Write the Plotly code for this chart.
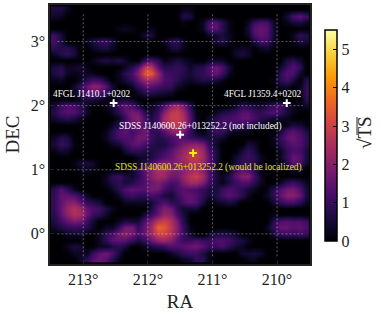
import plotly.graph_objects as go

ra_ticks = [213, 212, 211, 210]
dec_ticks = [0, 1, 2, 3]
ra_centers = [213.45 - 0.1 * i for i in range(40)]
dec_centers = [3.5 - 0.1 * j for j in range(40)]

# sqrt(TS) in tenths; rows top to bottom, columns left to right
sqrt_ts_tenths = [
 [6,6,3,0,0,0,0,0,0,0, 0,0,0,0,0,0,0,0,0,0, 2,2,0,0,0,0,0,0,0,0, 0,0,0,0,0,0,0,0,0,0],
 [4,3,0,0,0,0,0,0,0,0, 0,0,0,0,0,0,0,0,0,0, 7,6,0,0,0,0,0,0,0,0, 0,0,0,0,0,0,5,12,15,11],
 [0,0,0,0,0,0,0,0,0,0, 0,0,0,0,0,0,0,0,0,0, 1,0,0,3,12,14,8,2,0,0, 3,10,13,12,3,0,2,5,6,3],
 [0,0,0,0,0,0,0,0,0,0, 2,3,2,0,0,2,0,0,0,0, 0,0,0,3,13,15,8,2,0,0, 5,14,16,14,4,0,0,0,0,0],
 [11,6,0,0,0,0,0,0,0,0, 0,0,0,0,5,6,0,0,0,0, 0,0,0,0,3,4,6,3,0,0, 3,12,15,13,4,0,0,3,9,7],
 [12,6,0,0,0,3,6,9,10,6, 0,0,0,0,0,0,0,3,8,9, 3,0,0,0,0,5,7,3,0,0, 0,6,12,11,3,0,0,2,6,5],
 [8,7,8,5,0,0,3,5,6,3, 0,0,0,0,0,0,0,0,5,6, 2,0,0,0,0,0,0,0,2,4, 3,0,3,4,0,0,0,0,0,0],
 [3,7,9,6,0,0,0,0,0,0, 0,0,0,0,0,0,0,0,0,0, 0,0,0,0,0,0,0,0,4,6, 4,0,0,0,0,0,0,0,0,0],
 [0,0,0,0,0,0,2,5,7,5, 7,4,0,0,9,13,8,2,4,6, 4,2,0,0,3,4,3,0,0,0, 0,0,0,0,0,0,6,8,4,0],
 [6,8,3,4,5,2,0,0,0,0, 0,3,8,14,28,28,14,8,8,10, 8,4,7,8,13,17,13,5,0,0, 0,0,0,0,0,4,10,14,9,0],
 [6,9,3,2,3,3,2,0,0,0, 3,8,12,20,34,35,22,12,10,9, 7,5,8,9,12,16,11,3,0,0, 0,0,0,0,0,8,14,12,4,0],
 [2,3,0,0,3,8,12,11,5,0, 2,5,9,15,22,22,18,13,11,8, 5,3,5,7,6,5,2,0,0,0, 0,0,0,0,2,8,11,6,0,8],
 [0,0,0,4,9,16,21,20,14,5, 0,0,3,9,14,14,12,10,9,4, 2,0,0,0,0,0,0,0,0,0, 0,0,0,0,0,3,4,0,3,9],
 [0,0,0,3,7,12,14,12,8,3, 0,0,0,3,7,7,5,4,3,0, 0,0,0,0,0,0,0,0,0,0, 0,0,0,0,0,0,0,0,2,10],
 [0,0,0,0,3,6,6,4,2,0, 4,5,3,0,0,0,0,0,0,0, 0,0,0,0,0,0,0,0,0,0, 0,0,0,0,0,0,0,0,0,8],
 [5,10,13,12,8,3,0,0,3,5, 12,15,12,6,0,3,6,12,20,24, 18,8,0,0,0,0,0,0,3,8, 7,5,4,7,10,12,6,3,2,4],
 [7,12,14,13,10,4,0,0,0,3, 8,14,18,17,8,4,10,20,28,29, 24,12,2,0,0,3,6,8,10,14, 14,10,9,12,13,10,5,2,0,0],
 [4,7,8,6,3,0,0,0,0,0, 3,10,18,20,12,6,12,24,29,29, 26,14,3,0,4,8,11,12,13,15, 15,12,8,6,4,3,2,0,0,0],
 [0,0,0,0,0,0,0,0,0,3, 8,13,14,16,13,8,12,22,27,28, 24,13,3,0,6,9,11,10,10,9, 8,5,3,0,0,0,3,6,5,2],
 [0,0,0,0,0,0,0,0,2,7, 13,15,11,14,17,10,9,14,20,22, 18,9,3,0,6,11,10,5,3,3, 2,0,0,0,0,5,12,14,11,6],
 [3,7,6,0,0,0,0,0,3,8, 12,13,13,17,17,10,7,9,12,14, 13,10,8,6,5,6,4,0,0,0, 0,0,0,0,3,9,15,16,13,9],
 [5,10,8,2,0,0,0,0,0,3, 5,10,14,15,12,8,6,6,10,14, 18,20,21,18,9,4,0,0,0,0, 5,4,0,0,2,7,12,14,13,8],
 [2,5,4,0,0,0,0,0,0,0, 0,5,9,9,7,6,8,10,14,18, 22,26,28,23,12,6,0,0,0,5, 9,6,0,0,0,3,9,12,11,6],
 [0,0,0,0,0,0,0,0,0,0, 0,0,0,3,4,6,10,13,16,20, 24,28,29,24,14,6,0,0,4,8, 10,8,3,0,0,3,10,16,14,6],
 [0,0,0,2,5,6,4,0,0,0, 0,0,0,4,8,12,18,20,18,20, 22,25,26,22,13,5,0,0,5,9, 9,7,2,0,0,0,7,14,12,4],
 [0,0,0,0,2,3,2,0,0,0, 0,0,4,8,15,20,25,25,20,18, 20,23,24,20,12,5,0,3,10,14, 12,7,0,0,0,0,0,3,3,0],
 [0,0,0,0,0,0,0,0,3,8, 10,6,4,8,14,20,24,23,17,17, 22,27,29,24,13,6,3,7,14,19, 20,12,3,0,0,0,0,0,0,0],
 [0,0,0,0,0,0,0,0,3,7, 9,5,7,10,13,17,19,16,12,13, 19,24,24,19,11,5,2,6,10,13, 13,8,3,0,0,3,8,10,7,3],
 [8,14,9,3,0,0,0,0,0,3, 8,13,15,14,14,18,17,12,8,12, 14,13,12,9,6,6,10,13,11,8, 5,3,0,2,8,13,17,18,13,5],
 [9,15,15,13,9,3,0,0,0,0, 4,9,11,9,9,12,10,6,5,10, 14,15,13,9,5,7,11,14,12,8, 3,0,0,3,9,15,20,20,16,6],
 [9,15,19,20,15,9,7,5,0,0, 0,3,3,3,3,5,10,13,8,8, 12,15,13,6,0,3,4,6,4,0, 0,0,0,0,5,9,12,12,8,3],
 [9,16,22,26,23,15,12,11,6,3, 0,0,0,0,0,6,14,19,17,9, 4,5,5,0,0,0,0,0,0,0, 0,0,0,0,0,0,0,0,0,0],
 [8,15,21,26,24,16,10,8,4,0, 0,0,0,0,5,10,16,22,20,12, 6,0,0,0,0,0,0,0,0,0, 0,0,0,0,2,0,0,0,0,0],
 [6,11,15,18,17,10,4,0,0,0, 3,6,5,5,14,20,28,30,26,18, 8,0,0,0,0,0,0,0,0,0, 0,0,0,0,8,13,14,13,13,10],
 [4,7,9,10,9,7,3,0,3,3, 10,18,18,10,16,24,36,34,27,20, 10,2,0,0,0,0,0,0,0,0, 0,0,0,3,10,16,16,14,15,13],
 [0,0,3,3,4,0,0,3,9,12, 18,20,17,12,16,22,30,30,26,18, 10,4,0,0,3,6,7,6,4,0, 0,0,0,0,5,9,10,9,10,9],
 [0,0,0,0,0,0,0,3,9,14, 15,14,10,6,10,16,22,23,20,14, 10,10,12,10,10,13,13,11,8,6, 3,0,0,0,0,0,0,0,0,0],
 [0,0,3,6,5,0,0,3,3,6, 8,5,0,0,3,6,8,10,13,13, 14,16,17,14,10,10,12,8,5,3, 0,0,0,0,0,0,0,0,0,0],
 [0,0,0,3,3,3,10,15,17,13, 5,0,0,0,0,0,0,0,3,6, 9,11,10,6,2,0,0,0,0,4, 5,6,4,0,0,0,0,0,0,0],
 [0,0,0,0,3,8,14,16,14,8, 2,0,0,0,0,0,0,0,0,0, 3,4,9,8,2,0,0,0,0,0, 2,3,0,0,0,0,0,0,0,0],
]
assert len(sqrt_ts_tenths) == 40 and all(len(r) == 40 for r in sqrt_ts_tenths), [len(r) for r in sqrt_ts_tenths]
sqrt_ts = [[v / 10 for v in row] for row in sqrt_ts_tenths]

white_ra = [212.53, 209.85, 211.50]
white_dec = [2.04, 2.04, 1.547]
yellow_ra = [211.30]
yellow_dec = [1.26]

labels = [
    ("4FGL J1410.1+0202", 212.87, 2.18, "#ffffff"),
    ("4FGL J1359.4+0202", 210.22, 2.18, "#ffffff"),
    ("SDSS J140600.26+013252.2 (not included)", 211.19, 1.68, "#ffffff"),
    ("SDSS J140600.26+013252.2 (would be localized)", 211.06, 1.03, "#e6e600"),
]
SERIF = "Liberation Serif"
INK = "#222"

fig = go.Figure()
fig.add_trace(go.Heatmap(
    x=ra_centers, y=dec_centers, z=sqrt_ts, zmin=0, zmax=5.5, zsmooth="best",
    colorscale="Inferno", hoverinfo="skip",
    colorbar=dict(
        x=(325 - 50) / 260, xanchor="left", xref="paper", xpad=0, ypad=0,
        y=(264 - 241) / 261, yanchor="bottom", yref="paper",
        len=213 / 261, lenmode="fraction", thickness=12, thicknessmode="pixels",
        outlinewidth=1.5, outlinecolor="#000", tickvals=[0, 1, 2, 3, 4, 5],
        ticks="inside", ticklen=4, tickcolor="#000",
        tickfont=dict(family=SERIF, size=16, color=INK),
    ),
))
fig.add_trace(go.Scatter(x=white_ra, y=white_dec, mode="markers", hoverinfo="skip", showlegend=False,
                         marker=dict(symbol="cross-thin", size=5.5, line=dict(color="#fff", width=2))))
fig.add_trace(go.Scatter(x=yellow_ra, y=yellow_dec, mode="markers", hoverinfo="skip", showlegend=False,
                         marker=dict(symbol="cross-thin", size=5.5, line=dict(color="#ffee00", width=2))))

grid = dict(color="rgba(255,255,255,0.45)", width=0.8, dash="2px,2px")
for t in ra_ticks:
    fig.add_shape(type="line", x0=t, x1=t, y0=-0.35, y1=3.45, line=grid, layer="above")
for t in dec_ticks:
    fig.add_shape(type="line", x0=213.4, x1=209.6, y0=t, y1=t, line=grid, layer="above")

for text, x, y, color in labels:
    fig.add_annotation(x=x, y=y, text=text, showarrow=False, xanchor="center", yanchor="middle",
                       font=dict(family=SERIF, size=9.3, color=color))

fig.add_annotation(xref="paper", yref="paper", x=(364 - 50) / 260, y=(264 - 132) / 261,
                   text="√TS", textangle=-90, showarrow=False, xanchor="center", yanchor="middle",
                   font=dict(family=SERIF, size=19, color=INK))
fig.add_shape(type="line", xref="paper", yref="paper", x0=(357 - 50) / 260, x1=(357 - 50) / 260,
              y0=(264 - 134) / 261, y1=(264 - 116) / 261, line=dict(color=INK, width=1))

axis = dict(showgrid=False, zeroline=False, showline=True, mirror=True, linecolor=INK, linewidth=1.5,
            ticks="inside", ticklen=4, tickcolor=INK, layer="above traces",
            tickfont=dict(family=SERIF, size=16, color=INK))
fig.update_layout(
    width=381, height=316, margin=dict(l=50, r=71, t=3, b=52), paper_bgcolor="white", plot_bgcolor="black",
    showlegend=False,
    xaxis=dict(axis, range=[213.515, 209.49], tickvals=ra_ticks, ticktext=[f"{t}°" for t in ra_ticks],
               title=dict(text="RA", font=dict(family=SERIF, size=19, color=INK), standoff=8)),
    yaxis=dict(axis, range=[-0.47, 3.57], tickvals=dec_ticks, ticktext=[f"{t}°" for t in dec_ticks],
               title=dict(text="DEC", font=dict(family=SERIF, size=19, color=INK), standoff=6)),
)
fig.write_html("out.html", config={"displayModeBar": False},
               post_script="document.body.style.margin='0';document.documentElement.style.overflow='hidden';")
